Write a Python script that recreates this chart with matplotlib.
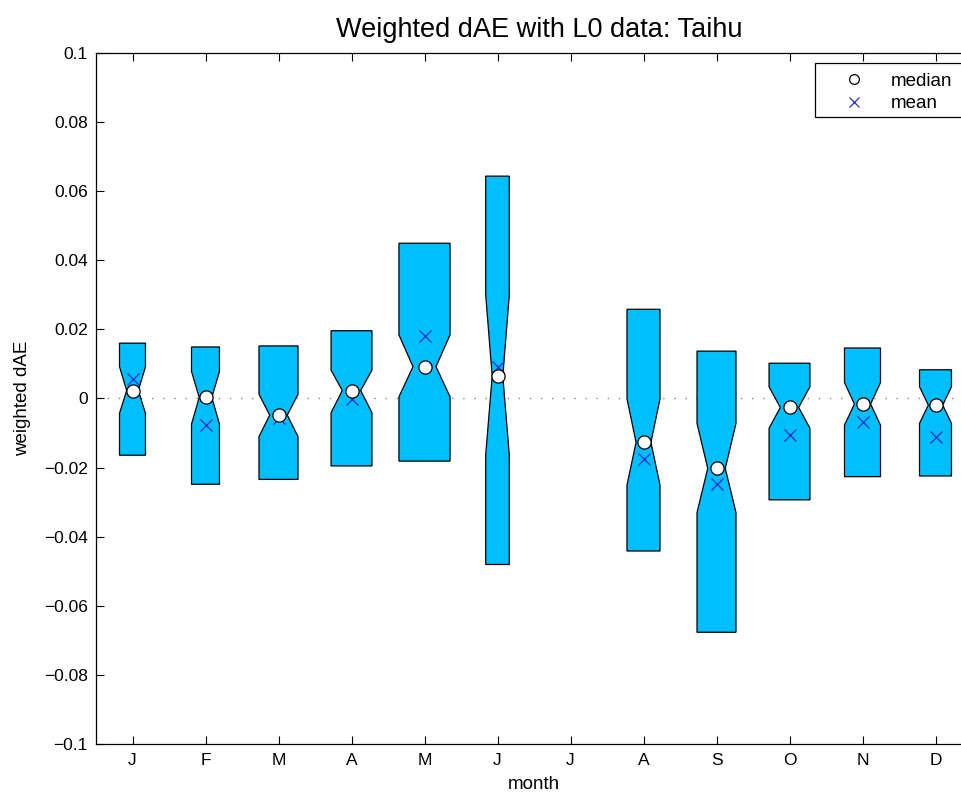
import matplotlib
matplotlib.use("Agg")
import matplotlib.pyplot as plt
from matplotlib.patches import Polygon, Rectangle
from matplotlib.lines import Line2D

plt.rcParams['font.family'] = ['Liberation Sans', 'DejaVu Sans']

months = ['J', 'F', 'M', 'A', 'M', 'J', 'J', 'A', 'S', 'O', 'N', 'D']
# one entry per plotted month (July has no data)
month_idx = [1, 2, 3, 4, 5, 6, 8, 9, 10, 11, 12]
box_lo = [-0.0164, -0.0248, -0.0234, -0.0195, -0.0181, -0.0480, -0.0441, -0.0676, -0.0293, -0.0226, -0.0224]
box_hi = [0.0160, 0.0149, 0.0152, 0.0196, 0.0449, 0.0643, 0.0258, 0.0137, 0.0102, 0.0146, 0.0083]
notch_lo = [-0.0043, -0.0074, -0.0110, -0.0041, 0.0005, -0.0163, -0.0250, -0.0330, -0.0086, -0.0077, -0.0072]
notch_hi = [0.0092, 0.0078, 0.0012, 0.0082, 0.0184, 0.0299, -0.0001, -0.0072, 0.0034, 0.0046, 0.0034]
medians = [0.0023, 0.0003, -0.0048, 0.0023, 0.0092, 0.0065, -0.0127, -0.0202, -0.0026, -0.0016, -0.0019]
means = [0.0056, -0.0077, -0.0057, -0.0002, 0.0181, 0.0092, -0.0176, -0.0247, -0.0106, -0.0067, -0.0111]
rel_width = [0.356, 0.383, 0.534, 0.560, 0.700, 0.323, 0.452, 0.534, 0.560, 0.493, 0.438]

yticks = [0.1, 0.08, 0.06, 0.04, 0.02, 0, -0.02, -0.04, -0.06, -0.08, -0.1]
ytick_labels = ['0.1', '0.08', '0.06', '0.04', '0.02', '0',
                '\u22120.02', '\u22120.04', '\u22120.06', '\u22120.08', '\u22120.1']

fill_color = '#00BFFF'
mean_color = '#2a2ad6'
notch_frac = 0.45

W, H = 961, 793
fig = plt.figure(figsize=(W / 100, H / 100), dpi=100)
# the plotting area runs on past the right edge of the canvas
ax = fig.add_axes([96 / W, (H - 744.3) / H, 876 / W, 691.6 / H])

ax.axhline(0, color='#888888', linestyle=(0, (1, 7)), linewidth=1.0, zorder=1)

for x, lo, hi, nlo, nhi, med, w in zip(month_idx, box_lo, box_hi, notch_lo,
                                        notch_hi, medians, rel_width):
    h = w / 2.0
    n = h * notch_frac
    verts = [
        (x - h, lo), (x + h, lo), (x + h, nlo), (x + n, med), (x + h, nhi),
        (x + h, hi), (x - h, hi), (x - h, nhi), (x - n, med), (x - h, nlo),
    ]
    ax.add_patch(Polygon(verts, closed=True, facecolor=fill_color,
                         edgecolor='black', linewidth=0.9, zorder=2))

ax.plot(month_idx, means, linestyle='none', marker='x', color=mean_color,
        markersize=8, markeredgewidth=0.9, zorder=3)
ax.plot(month_idx, medians, linestyle='none', marker='o', markerfacecolor='white',
        markeredgecolor='black', markersize=9.5, markeredgewidth=0.9, zorder=4)

ax.set_xlim(0.5, 12.5)
ax.set_ylim(-0.1, 0.1)
ax.set_xticks(range(1, 13))
ax.set_xticklabels(months)
ax.set_yticks(yticks)
ax.set_yticklabels(ytick_labels)
ax.tick_params(direction='in', length=6, width=0.8, labelsize=12.5,
               top=True, right=False, pad=6)
ax.spines['right'].set_visible(False)
for sp in ax.spines.values():
    sp.set_linewidth(0.9)

ax.set_title('Weighted dAE with L0 data: Taihu', fontsize=19.5, pad=11, x=0.506)
ax.set_xlabel('month', fontsize=13.5, labelpad=6)
ax.set_ylabel('weighted dAE', fontsize=13.5, labelpad=9)

# legend box: a white frame that runs off the right edge of the canvas
ax.add_patch(Rectangle((815 / W, (H - 117) / H), 160 / W, 54.3 / H,
                       transform=fig.transFigure, facecolor='white',
                       edgecolor='black', linewidth=0.9, clip_on=False,
                       zorder=4.5))

handles = [
    Line2D([], [], linestyle='none', marker='o', markerfacecolor='white',
           markeredgecolor='black', markersize=7, markeredgewidth=0.9),
    Line2D([], [], linestyle='none', marker='x', color=mean_color,
           markersize=7, markeredgewidth=0.9),
]
leg = ax.legend(handles, ['median', 'mean'], loc='upper left',
                bbox_to_anchor=(816 / W, (H - 67) / H),
                bbox_transform=fig.transFigure, borderaxespad=0,
                fontsize=13.5, frameon=False, handletextpad=0.2,
                borderpad=0.3, labelspacing=0.3, handlelength=3.5)
leg.set_zorder(5)

fig.savefig('out.png', dpi=100)
